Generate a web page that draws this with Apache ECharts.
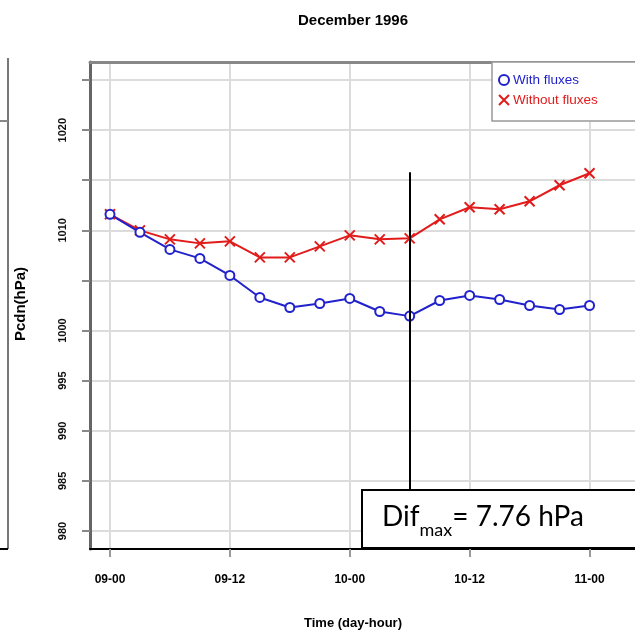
<!DOCTYPE html>
<html>
<head>
<meta charset="utf-8">
<script src="https://cdn.jsdelivr.net/npm/echarts@6/dist/echarts.min.js"></script>
<style>
  html, body { margin: 0; padding: 0; background: #fff; }
  #main { width: 635px; height: 636px; }
</style>
</head>
<body>
<div id="main"></div>
<script>
// hours since 09-00
var times = [0, 3, 6, 9, 12, 15, 18, 21, 24, 27, 30, 33, 36, 39, 42, 45, 48];
var withFluxes = [1011.6, 1009.8, 1008.1, 1007.2, 1005.5, 1003.3, 1002.3, 1002.7, 1003.2, 1001.9, 1001.44, 1003.0, 1003.5, 1003.1, 1002.5, 1002.1, 1002.5];
var withoutFluxes = [1011.6, 1010.0, 1009.1, 1008.7, 1008.9, 1007.3, 1007.3, 1008.4, 1009.5, 1009.1, 1009.2, 1011.1, 1012.3, 1012.1, 1012.9, 1014.5, 1015.7];
var xTicks = [0, 12, 24, 36, 48];
var xTickLabels = ['09-00', '09-12', '10-00', '10-12', '11-00'];
var yTicks = [980, 985, 990, 995, 1000, 1005, 1010, 1015, 1020, 1025];
var yLabelTicks = [980, 985, 990, 995, 1000, 1010, 1020];
var difHour = 30;
var difText = '7.76 hPa';

var chartDom = document.getElementById('main');
var myChart = echarts.init(chartDom);
var font = 'Liberation Sans';
var xMark = 'path://M0,0L10,10M10,0L0,10';

function pairs(ys) {
    return times.map(function (t, i) { return [t, ys[i]]; });
}

var option = {
    animation: false,
    textStyle: { fontFamily: font },
    title: [
        {
            text: 'December 1996',
            left: 348, top: 8, textAlign: 'center',
            textStyle: { fontSize: 15, fontWeight: 'bold', color: '#000', fontFamily: font }
        },
        {
            text: 'Time (day-hour)',
            left: 348, top: 612, textAlign: 'center',
            textStyle: { fontSize: 13, fontWeight: 'bold', color: '#000', fontFamily: font }
        }
    ],
    grid: { left: 90, top: 62, right: 0, bottom: 87 },
    legend: {
        orient: 'vertical',
        left: 492, top: 62,
        padding: [11, 60, 14, 6],
        itemGap: 6,
        itemWidth: 10, itemHeight: 10,
        borderColor: '#999', borderWidth: 1.5,
        backgroundColor: '#fff',
        data: [
            { name: 'With fluxes', icon: 'emptyCircle', textStyle: { color: '#2222cc' } },
            { name: 'Without fluxes', icon: xMark, textStyle: { color: '#e21b1b' } }
        ],
        textStyle: { fontSize: 13.5, fontFamily: font, padding: [0, 0, 0, -1] }
    },
    xAxis: [
        {
            type: 'value',
            min: -2, max: 52.55,
            axisLine: { show: true, onZero: false, lineStyle: { color: '#000', width: 2 } },
            axisTick: { show: true, length: 8, customValues: xTicks, lineStyle: { color: '#999', width: 2 } },
            axisLabel: {
                customValues: xTicks,
                margin: 25,
                fontSize: 12, fontWeight: 'bold', color: '#000',
                formatter: function (v) { return xTickLabels[xTicks.indexOf(v)]; }
            },
            splitLine: { show: true, lineStyle: { color: '#dcdcdc', width: 2 } }
        },
        {
            type: 'value', position: 'top',
            min: -2, max: 52.55,
            axisLine: { show: true, onZero: false, lineStyle: { color: '#888', width: 3 } },
            axisTick: { show: false }, axisLabel: { show: false }, splitLine: { show: false }
        }
    ],
    yAxis: {
        type: 'value',
        min: 978.2, max: 1026.8,
        axisLine: { show: true, onZero: false, lineStyle: { color: '#666', width: 3 } },
        axisTick: { show: true, length: 8, customValues: yTicks, lineStyle: { color: '#888', width: 2 } },
        axisLabel: {
            customValues: yLabelTicks,
            rotate: 90, margin: 22,
            fontSize: 11, fontWeight: 'bold', color: '#111',
            formatter: function (v) { return String(v); }
        },
        splitLine: { show: true, lineStyle: { color: '#dcdcdc', width: 2 } }
    },
    series: [
        {
            name: 'Without fluxes',
            type: 'line',
            data: pairs(withoutFluxes),
            symbol: xMark,
            symbolSize: 10,
            lineStyle: { color: '#e21b1b', width: 2 },
            itemStyle: { color: '#e21b1b', borderColor: '#e21b1b', borderWidth: 2 },
            markLine: {
                silent: true,
                symbol: 'none',
                label: { show: false },
                lineStyle: { color: '#000', width: 2, type: 'solid' },
                data: [[{ coord: [difHour, 1015.8] }, { coord: [difHour, 984] }]]
            }
        },
        {
            name: 'With fluxes',
            type: 'line',
            data: pairs(withFluxes),
            symbol: 'emptyCircle',
            symbolSize: 9,
            lineStyle: { color: '#2222cc', width: 2 },
            itemStyle: { color: '#2222cc', borderColor: '#2222cc', borderWidth: 2 }
        }
    ],
    graphic: [
        // edge of the neighbouring panel
        { type: 'line', shape: { x1: 8, y1: 58, x2: 8, y2: 549 }, style: { stroke: '#777', lineWidth: 2 } },
        { type: 'line', shape: { x1: 0, y1: 549, x2: 8, y2: 549 }, style: { stroke: '#000', lineWidth: 2 } },
        { type: 'line', shape: { x1: 0, y1: 121, x2: 8, y2: 121 }, style: { stroke: '#888', lineWidth: 2 } },
        {
            type: 'text', x: 21, y: 304, rotation: Math.PI / 2,
            style: {
                text: 'Pcdn(hPa)', fontSize: 15, fontWeight: 'bold', fill: '#000',
                fontFamily: font, align: 'center', verticalAlign: 'middle'
            }
        },
        {
            type: 'rect', z: 100,
            shape: { x: 362, y: 490, width: 290, height: 58 },
            style: { fill: '#fff', stroke: '#000', lineWidth: 2 }
        },
        {
            type: 'text', z: 101, x: 382, y: 517,
            style: {
                text: '{a|Dif}{b|max}{a|= ' + difText + '}',
                verticalAlign: 'middle',
                rich: {
                    a: { fontSize: 28, fontFamily: 'Lato', fill: '#000', color: '#000' },
                    b: { fontSize: 18, fontFamily: 'Lato', fill: '#000', color: '#000', padding: [26, 0, 0, 0] }
                }
            }
        }
    ]
};

option && myChart.setOption(option);
</script>
</body>
</html>
